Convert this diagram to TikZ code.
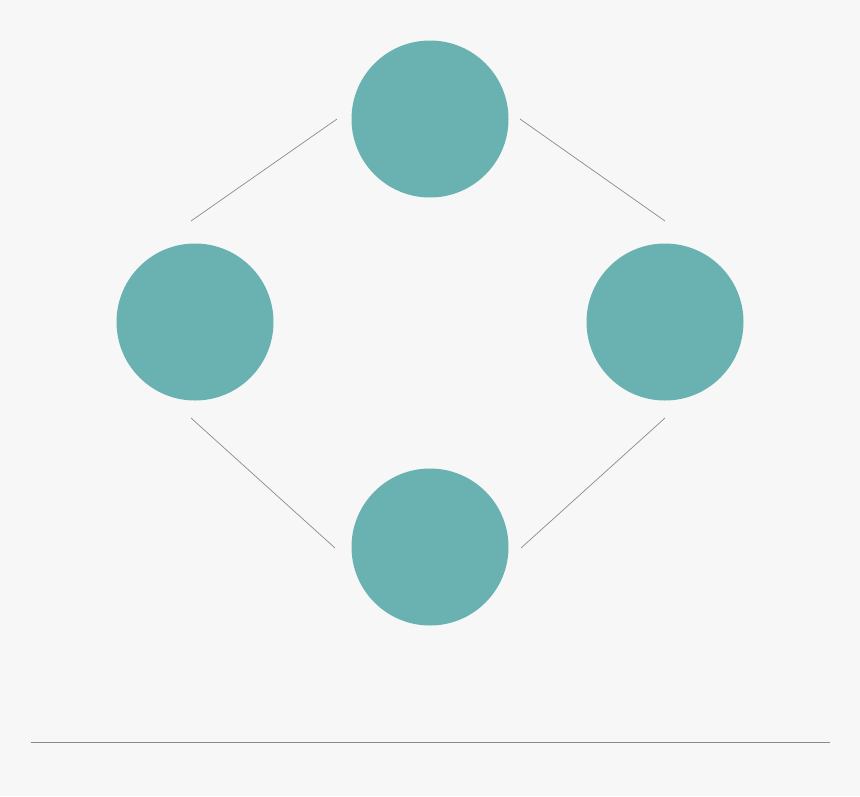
\documentclass[tikz,border=0pt]{standalone}
\definecolor{bg}{HTML}{F7F7F7}
\definecolor{teal}{HTML}{6AB1B2}
\definecolor{ln}{HTML}{8A8A8A}
\begin{document}
\begin{tikzpicture}[x=1pt,y=-1pt,
  dot/.style={circle,fill=teal,minimum size=157pt,inner sep=0pt,draw=none},
  link/.style={draw=ln,line width=0.7pt}]
\fill[bg] (0,0) rectangle (860,796);
\useasboundingbox (0,0) rectangle (860,796);
\node[dot] (t) at (430,119) {};
\node[dot] (l) at (195,322) {};
\node[dot] (r) at (665,322) {};
\node[dot] (b) at (430,547) {};
\coordinate (tl1) at (337,119);
\coordinate (tl2) at (191,221);
\coordinate (tr1) at (520,119);
\coordinate (tr2) at (665,221);
\coordinate (bl1) at (191,418);
\coordinate (bl2) at (335,548);
\coordinate (br1) at (665,418);
\coordinate (br2) at (521,548);
\coordinate (h1) at (31,742);
\coordinate (h2) at (830,742);
\draw[link] (tl1) -- (tl2);
\draw[link] (tr1) -- (tr2);
\draw[link] (bl1) -- (bl2);
\draw[link] (br1) -- (br2);
\draw[link] (h1) -- (h2);
\end{tikzpicture}
\end{document}
